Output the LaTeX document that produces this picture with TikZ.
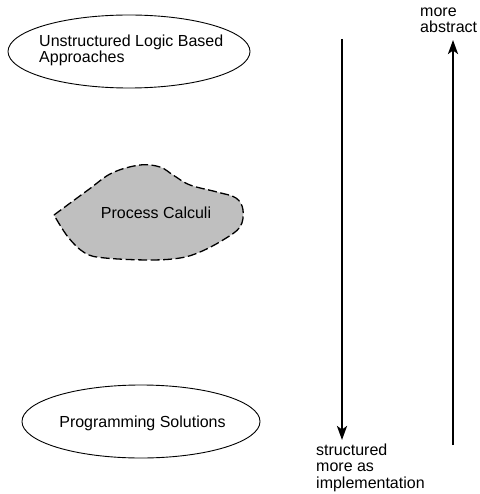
\documentclass[tikz,border=0pt]{standalone}
\usepackage{fontspec}
\setmainfont{Liberation Sans}
\usetikzlibrary{shapes.geometric,arrows.meta}

\begin{document}
\begin{tikzpicture}[x=1pt, y=-1pt,
	txt/.style={font=\fontsize{16}{16.5}\selectfont, inner sep=0pt, align=left},
	oval/.style={draw, ellipse, line width=0.9pt, inner sep=0pt},
	axis/.style={line width=2.3pt, -{Stealth[length=14pt, width=10pt, inset=3.5pt]}}]

	% ---- frame

	\useasboundingbox (0,0) rectangle (479,494);

	% ---- ovals

	\node[oval, minimum width=242pt, minimum height=73pt] (U) at (129,51.5) {};
	\node[oval, minimum width=238pt, minimum height=73pt] (S) at (141,421.5) {};

	% ---- blob

	\draw[line width=1.3pt, dash pattern=on 9pt off 3.5pt, fill=black!25]
		plot[smooth, tension=0.6] coordinates {(54,215) (88,190) (112,173) (140,165)
		(160,167) (173,175) (190,185) (217,192) (236,198) (243,210) (240,227)
		(223,240) (200,252) (180,258) (150,260) (105,258) (85,253) (68,237) (54,215)}
		-- cycle;

	% ---- labels (base = last line)

	\node[txt, anchor=base west] (Ut) at (39,63) {Unstructured Logic Based\\Approaches};
	\node[txt, anchor=base] (Pt) at (156,218) {Process Calculi};
	\node[txt, anchor=base] (St) at (142.5,427) {Programming Solutions};

	% ---- arrows

	\coordinate (Dtop) at (342,39);
	\coordinate (Dbot) at (342,440);
	\coordinate (Atop) at (453,40);
	\coordinate (Abot) at (453,445);

	\draw[axis] (Dtop) -- (Dbot);
	\draw[axis] (Abot) -- (Atop);

	\node[txt, anchor=base west] (abs) at (420,33) {more\\abstract};
	\node[txt, anchor=base west] (impl) at (316,488) {structured\\more as\\implementation};

\end{tikzpicture}
\end{document}
